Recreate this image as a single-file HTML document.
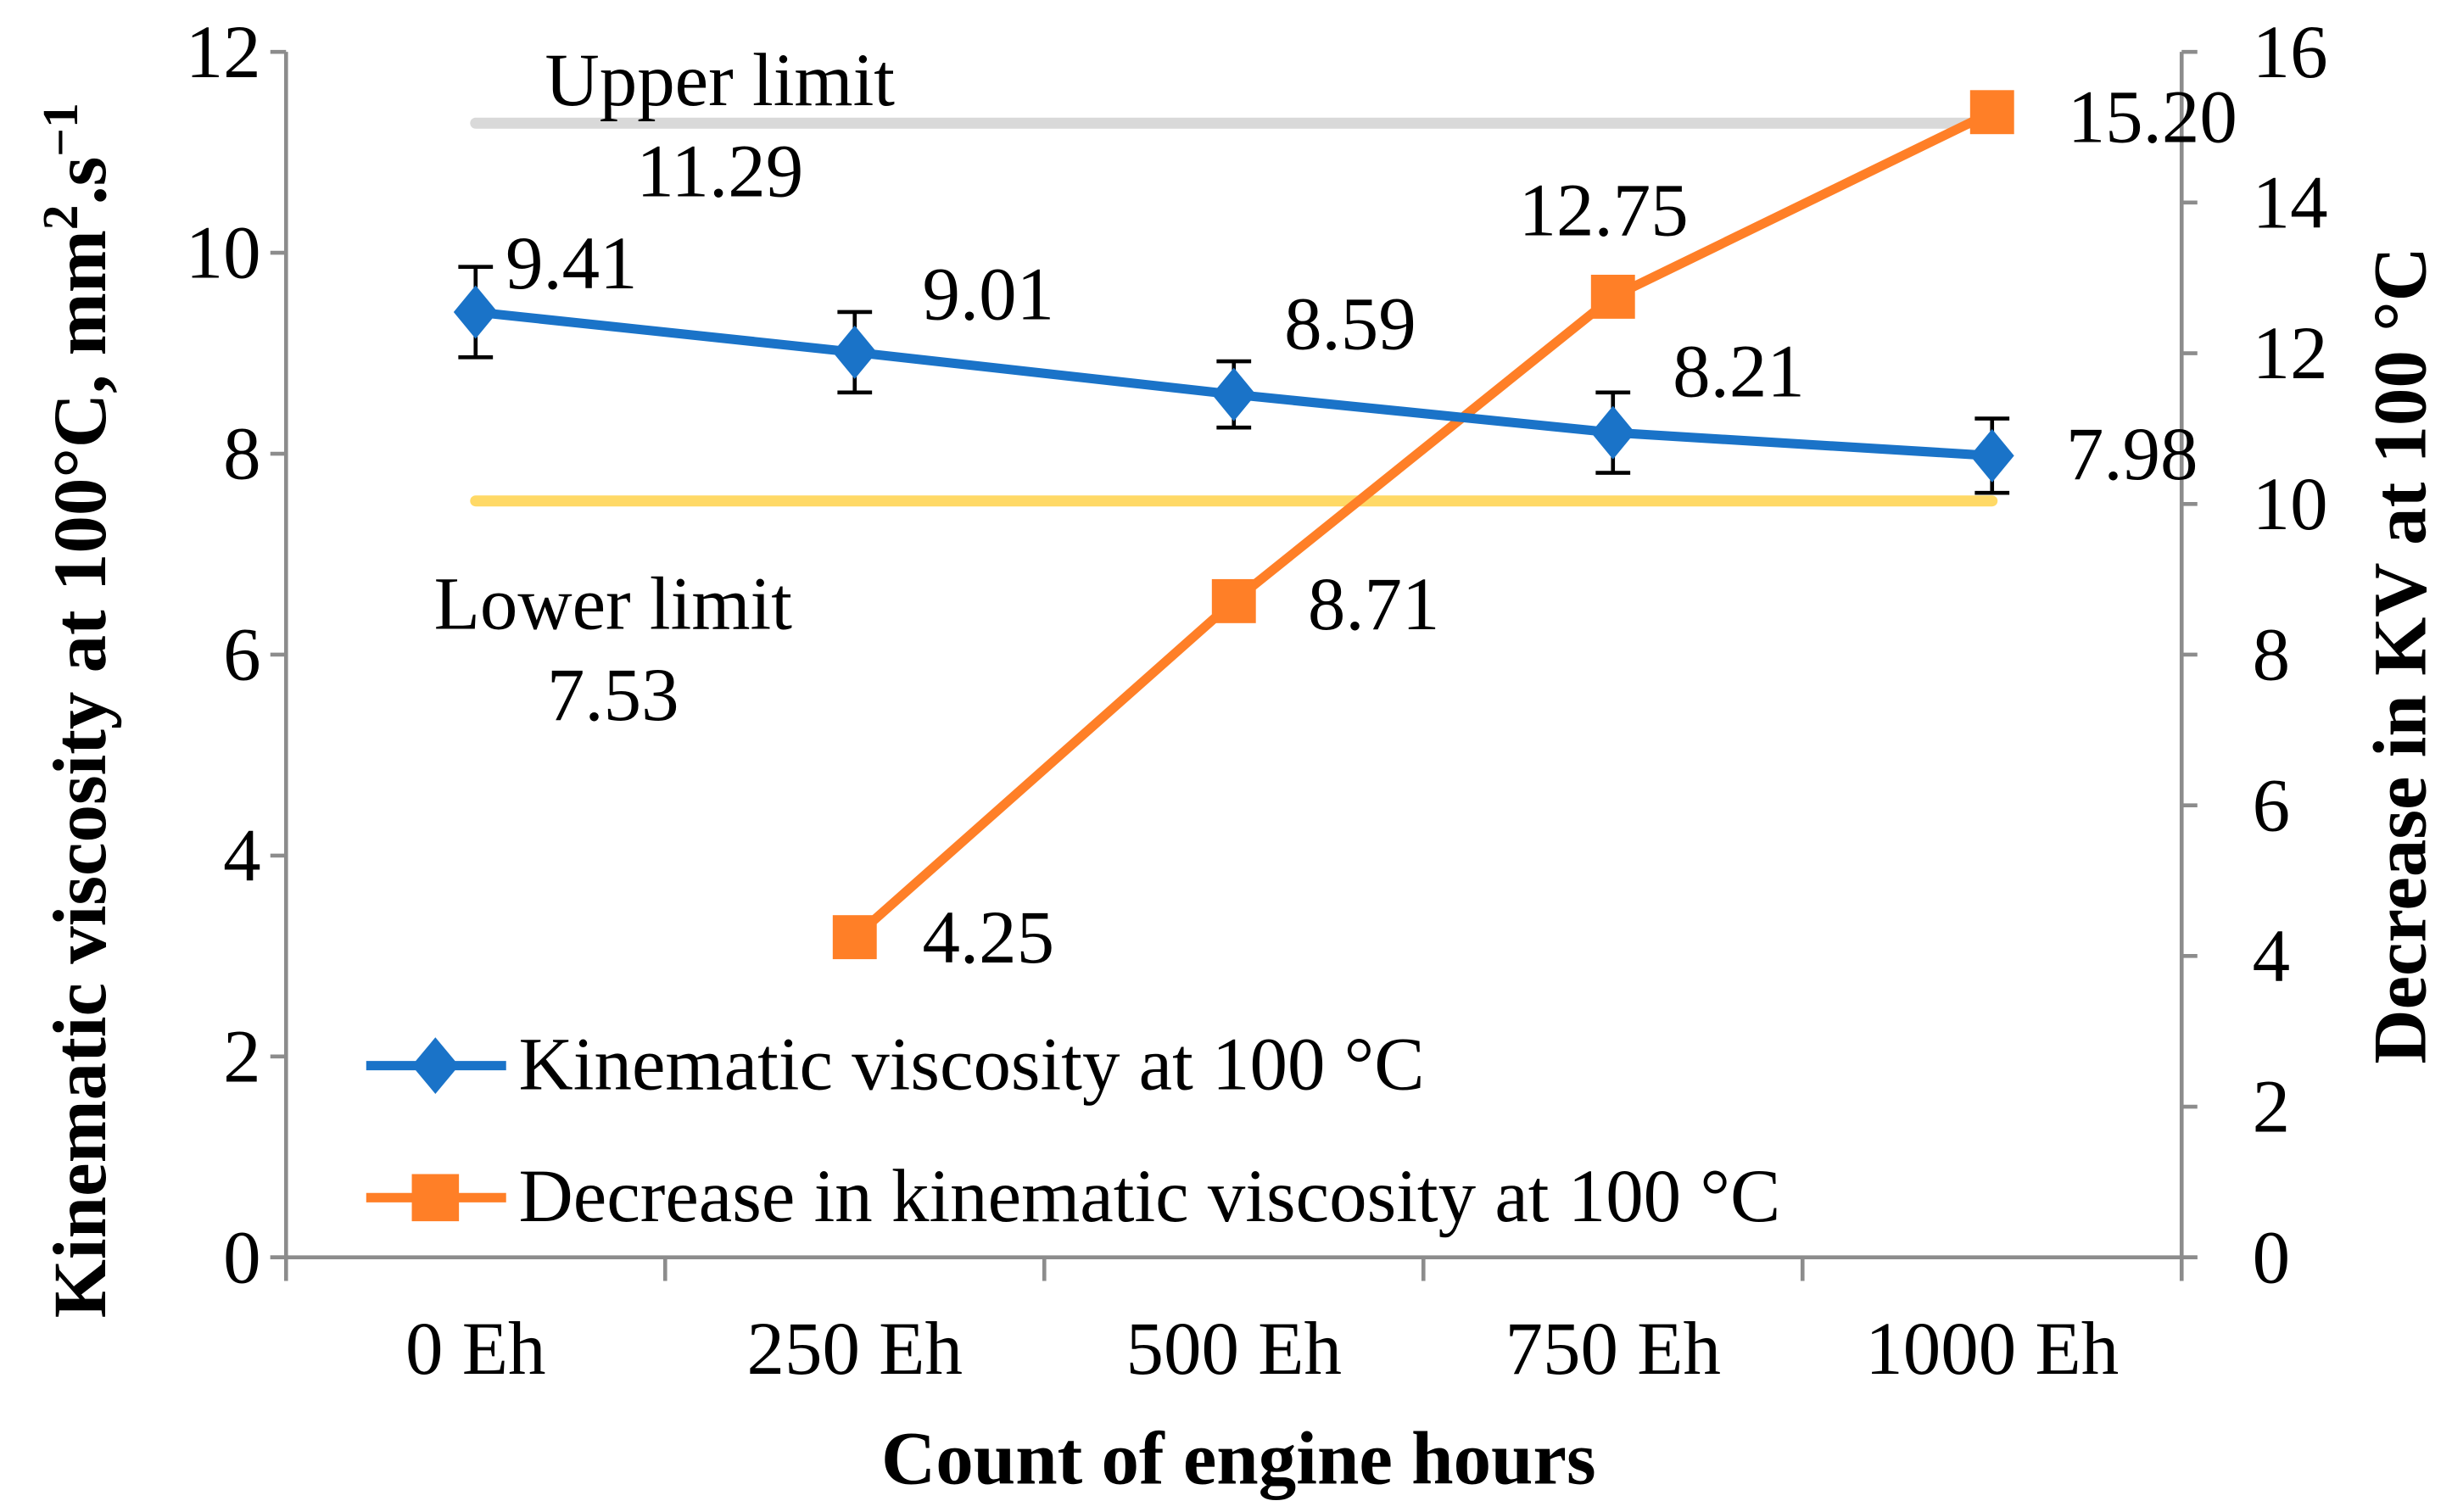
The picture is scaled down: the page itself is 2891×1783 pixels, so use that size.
<!DOCTYPE html>
<html><head><meta charset="utf-8"><style>
html,body{margin:0;padding:0;background:#fff;}
svg{display:block;}
text{font-family:"Liberation Serif",serif;fill:#000;}
</style></head><body>
<svg id="chart" width="2891" height="1783" viewBox="0 0 1560 962" preserveAspectRatio="none" xmlns="http://www.w3.org/2000/svg">
<g id="g"></g>
</svg>
<script>
const categories=["0 Eh","250 Eh","500 Eh","750 Eh","1000 Eh"];
const kvValues=[9.41,9.01,8.59,8.21,7.98];
const kvErrors=[0.45,0.4,0.33,0.4,0.37];
const kvLabels=["9.41","9.01","8.59","8.21","7.98"];
const decValues=[null,4.25,8.71,12.75,15.20];
const decLabels=["","4.25","8.71","12.75","15.20"];
const leftTicks=[0,2,4,6,8,10,12];
const rightTicks=[0,2,4,6,8,10,12,14,16];
const upperLimit=11.29, lowerLimit=7.53;

const L=182,R=1388,B=800,T=33;
const FS=48;
const cw=(R-L)/categories.length;
const xs=i=>L+cw*(i+0.5);
const yl=v=>B-(v/12)*(B-T);
const yr=v=>B-(v/16)*(B-T);
const g=document.getElementById('g');
const NS="http://www.w3.org/2000/svg";
function mk(t,a,txt){const e=document.createElementNS(NS,t);for(const k in a)e.setAttribute(k,a[k]);if(txt!==undefined)e.textContent=txt;g.appendChild(e);return e;}

let e=mk('line',{x1:L,y1:T,x2:L,y2:B,stroke:'#8c8c8c','stroke-width':2.5});


e=mk('line',{x1:R,y1:T,x2:R,y2:B,stroke:'#8c8c8c','stroke-width':2.5});


e=mk('line',{x1:L-10,y1:B,x2:R+10,y2:B,stroke:'#8c8c8c','stroke-width':2.5});


leftTicks.forEach(v=>{
  mk('line',{x1:L-10,y1:yl(v),x2:L,y2:yl(v),stroke:'#8c8c8c','stroke-width':2.5});
  e=mk('text',{x:L-16,y:yl(v)+16,'text-anchor':'end','font-size':FS},String(v));
  
  
});
rightTicks.forEach(v=>{
  mk('line',{x1:R,y1:yr(v),x2:R+10,y2:yr(v),stroke:'#8c8c8c','stroke-width':2.5});
  e=mk('text',{x:R+45,y:yr(v)+16,'text-anchor':'start','font-size':FS},String(v));
  
  
});
for(let i=0;i<=categories.length;i++){mk('line',{x1:L+cw*i,y1:B,x2:L+cw*i,y2:B+15,stroke:'#8c8c8c','stroke-width':2.5});}
categories.forEach((c,i)=>{
  e=mk('text',{x:xs(i),y:874,'text-anchor':'middle','font-size':FS},c);
  
  
});
e=mk('text',{x:788,y:944,'text-anchor':'middle','font-size':FS,'font-weight':'bold'},'Count of engine hours');


e=mk('text',{x:0,y:0,'text-anchor':'middle','font-size':FS,'font-weight':'bold',transform:'translate(67,452) rotate(-90)'});
e.innerHTML='Kinematic viscosity at 100°C, mm<tspan baseline-shift="super" font-size="32">2</tspan>.s<tspan baseline-shift="super" font-size="32">−1</tspan>';


e=mk('text',{x:0,y:0,'text-anchor':'middle','font-size':FS,'font-weight':'bold',transform:'translate(1543,417) rotate(-90)'},'Decrease in KV at 100 °C');



e=mk('line',{x1:xs(0),y1:yl(upperLimit),x2:xs(4),y2:yl(upperLimit),stroke:'#d9d9d9','stroke-width':7,'stroke-linecap':'round'});


e=mk('line',{x1:xs(0),y1:yl(lowerLimit),x2:xs(4),y2:yl(lowerLimit),stroke:'#ffd966','stroke-width':7,'stroke-linecap':'round'});


e=mk('text',{x:458,y:67,'text-anchor':'middle','font-size':FS},'Upper limit');


e=mk('text',{x:458,y:125,'text-anchor':'middle','font-size':FS},String(upperLimit));


e=mk('text',{x:390,y:400,'text-anchor':'middle','font-size':FS},'Lower limit');


e=mk('text',{x:390,y:458,'text-anchor':'middle','font-size':FS},String(lowerLimit));



let pts=[];decValues.forEach((v,i)=>{if(v!==null)pts.push(xs(i)+','+yr(v));});
e=mk('polyline',{points:pts.join(' '),fill:'none',stroke:'#ff7f27','stroke-width':6,'stroke-linejoin':'round'});


decValues.forEach((v,i)=>{if(v===null)return;
  e=mk('rect',{x:xs(i)-14,y:yr(v)-14,width:28,height:28,fill:'#ff7f27'});
  
  
});
const decOff=[[0,0],[43,16],[47,18],[-6,-39],[48,19]];
decValues.forEach((v,i)=>{if(v===null)return;
  e=mk('text',{x:xs(i)+decOff[i][0],y:yr(v)+decOff[i][1],'text-anchor':i==3?'middle':'start','font-size':FS},decLabels[i]);
  
  
});

pts=kvValues.map((v,i)=>xs(i)+','+yl(v));
e=mk('polyline',{points:pts.join(' '),fill:'none',stroke:'#1a73c8','stroke-width':6,'stroke-linejoin':'round'});


kvValues.forEach((v,i)=>{
  const x=xs(i),t=yl(v+kvErrors[i]),b=yl(v-kvErrors[i]);
  e=mk('path',{d:`M${x},${t}V${b}M${x-11},${t}H${x+11}M${x-11},${b}H${x+11}`,stroke:'#000','stroke-width':2.5,fill:'none'});
  
  
  const y=yl(v);
  e=mk('path',{d:`M${x},${y-17}L${x+14},${y}L${x},${y+17}L${x-14},${y}Z`,fill:'#1a73c8'});
  
  
});
const kvOff=[[19,-15],[43,-21],[32,-29],[38,-23],[47,15]];
kvValues.forEach((v,i)=>{
  e=mk('text',{x:xs(i)+kvOff[i][0],y:yl(v)+kvOff[i][1],'text-anchor':'start','font-size':FS},kvLabels[i]);
  
  
});

e=mk('line',{x1:233,y1:678,x2:322,y2:678,stroke:'#1a73c8','stroke-width':6});


mk('path',{d:'M277,660L292,678L277,696L262,678Z',fill:'#1a73c8'});
e=mk('text',{x:330,y:693,'font-size':FS},'Kinematic viscosity at 100 °C');


e=mk('line',{x1:233,y1:762,x2:322,y2:762,stroke:'#ff7f27','stroke-width':6});


mk('rect',{x:262,y:747,width:30,height:30,fill:'#ff7f27'});
e=mk('text',{x:330,y:777,'font-size':FS},'Decrease in kinematic viscosity at 100 °C');


</script>
</body></html>
